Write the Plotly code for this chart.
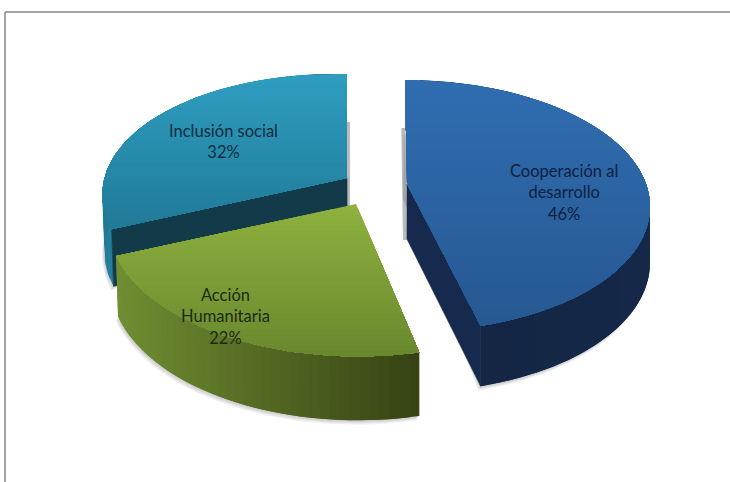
import math
import plotly.graph_objects as go

categories = ["Cooperación al<br>desarrollo", "Acción<br>Humanitaria", "Inclusión social"]
values = [46, 22, 32]

# Drawing style for each slice: apex, shape and colours of the 3-D look
style = [
    dict(c=(407, 184), R=239, ry=122, s=-2, q=0, d=55, dx=0,
         top=((47, 109, 176), (39, 88, 146)), wall=((22, 44, 80), (20, 38, 68)), inner=(21, 42, 76),
         text="#0e2140", pos=(564, 192)),
    dict(c=(356, 204), R=242, ry=126, s=7.7, q=6, d=58, dx=2,
         top=((142, 177, 62), (106, 136, 46)), wall=((112, 142, 50), (54, 66, 20)), inner=None,
         text="#1c2a10", pos=(225, 316)),
    dict(c=(347, 178), R=241, ry=122, s=0, q=5, d=55, dx=2,
         top=((46, 157, 192), (33, 122, 152)), wall=((36, 126, 156), (30, 100, 124)), inner=(18, 58, 72),
         text="#0f2c3e", pos=(223, 141)),
]
K = 0.173
BANDS = 28
BG_SHADOW = "rgba(60,60,60,0.06)"


def pt(st, t):
    den = 1 + K * math.cos(t)
    return (st["c"][0] + (st["R"] * math.sin(t) + st["s"] * math.cos(t)) / den,
            st["c"][1] + (-st["ry"] * math.cos(t) + st["q"] * math.sin(t)) / den)


def low(st, t):
    x, y = pt(st, t)
    den = 1 + K * math.cos(t)
    off = (x - st["c"][0]) / 241
    return x + st["dx"] * max(-off, 0), y + st["d"] / den ** 0.5


def clip(poly, y0, y1):
    def half(p, keep, cross):
        out = []
        for i, a in enumerate(p):
            b = p[(i + 1) % len(p)]
            if keep(a):
                out.append(a)
            if keep(a) != keep(b):
                out.append(cross(a, b))
        return out
    def cut(v):
        return lambda a, b: (a[0] + (b[0] - a[0]) * (v - a[1]) / (b[1] - a[1]), v)
    p = half(poly, lambda a: a[1] >= y0, cut(y0))
    return half(p, lambda a: a[1] <= y1, cut(y1)) if p else []


def mix(a, b, f):
    return "rgb(%d,%d,%d)" % tuple(round(a[i] + (b[i] - a[i]) * f) for i in range(3))


fig = go.Figure()


def add(poly, color, line=0.7):
    xs = [p[0] for p in poly] + [poly[0][0]]
    ys = [p[1] for p in poly] + [poly[0][1]]
    fig.add_trace(go.Scatter(x=xs, y=ys, mode="lines", fill="toself", fillcolor=color,
                             line=dict(color=color, width=line),
                             hoverinfo="skip", showlegend=False))


spans = []
acc = 0.0
total = sum(values)
for v in values:
    spans.append((acc / total * 2 * math.pi, (acc + v) / total * 2 * math.pi))
    acc += v


def arc(st, a, b, fn, n=70):
    return [fn(st, a + (b - a) * i / n) for i in range(n + 1)]


# soft shadows under the pieces
for (a, b), st in zip(spans, style):
    lower = arc(st, a, b, low)
    for grow in (1, 2, 3, 4, 5):
        shade = [(x - grow * 0.5, y + grow * 0.9) for x, y in lower]
        add(shade + [(st["c"][0] - 4, st["c"][1] - 40 + st["d"]),], BG_SHADOW, 0)

# cut-away edges that show behind the apex
for i, st in enumerate(style):
    a, b = spans[i]
    if i in (0, 2):
        tp = pt(st, a if i == 0 else b)
        side = -4 if i == 0 else 3
        add([(tp[0], tp[1] + 48), (tp[0] + side, tp[1] + 48), (st["c"][0] + side, st["c"][1] + st["d"] + 1),
             (st["c"][0], st["c"][1] + st["d"] + 1)], "rgba(130,132,138,0.55)", 0)

for idx in (2, 0, 1):
    st = style[idx]
    a, b = spans[idx]
    lo, hi = st["wall"]
    # curved outer wall, in overlapping vertical strips so no seams show
    n = 40
    full = pt(st, b)[0] - pt(st, a)[0]
    for i in range(n):
        t0 = a + (b - a) * i / n
        t1 = a + (b - a) * min(i + 2, n) / n
        tm = a + (b - a) * (i + 0.5) / n
        if idx == 1:
            f = (pt(st, tm)[0] - pt(st, b)[0]) / -full
        else:
            f = i / n
        part = [pt(st, t0 + (t1 - t0) * k / 4) for k in range(5)] + [low(st, t1 - (t1 - t0) * k / 4) for k in range(5)]
        add(part, mix(lo, hi, f), 0)
    # straight wall facing the viewer
    if st["inner"]:
        e = a if idx == 2 else b
        add([st["c"], pt(st, e), low(st, e), (st["c"][0], st["c"][1] + st["d"])], mix(st["inner"], st["inner"], 0))
    # top face, in overlapping horizontal bands
    poly = [st["c"]] + arc(st, a, b, pt)
    ymin = min(p[1] for p in poly)
    ymax = max(p[1] for p in poly)
    for j in range(BANDS):
        y0 = ymin + (ymax - ymin) * j / BANDS
        part = clip(poly, y0, ymax + 1)
        if len(part) >= 3:
            add(part, mix(st["top"][0], st["top"][1], j / (BANDS - 1)), 0)

annotations = []
for cat, v, st in zip(categories, values, style):
    annotations.append(dict(x=st["pos"][0], y=st["pos"][1], xref="x", yref="y", showarrow=False,
                            text=f"{cat}<br>{v}%", align="center",
                            font=dict(family="Lato", size=16.5, color=st["text"])))

fig.update_layout(
    width=730, height=482, margin=dict(l=0, r=0, t=0, b=0),
    paper_bgcolor="white", plot_bgcolor="white", showlegend=False,
    xaxis=dict(range=[0, 730], visible=False, fixedrange=True),
    yaxis=dict(range=[482, 0], visible=False, fixedrange=True),
    annotations=annotations,
    shapes=[
        dict(type="line", x0=5, x1=730, y0=12, y1=12, xref="x", yref="y", line=dict(color="#868686", width=1.5)),
        dict(type="line", x0=5, x1=5, y0=12, y1=482, xref="x", yref="y", line=dict(color="#868686", width=1.5)),
    ],
)
fig.write_html("out.html", config=dict(displayModeBar=False),
               post_script="document.body.style.margin='0';document.body.style.overflow='hidden';")
